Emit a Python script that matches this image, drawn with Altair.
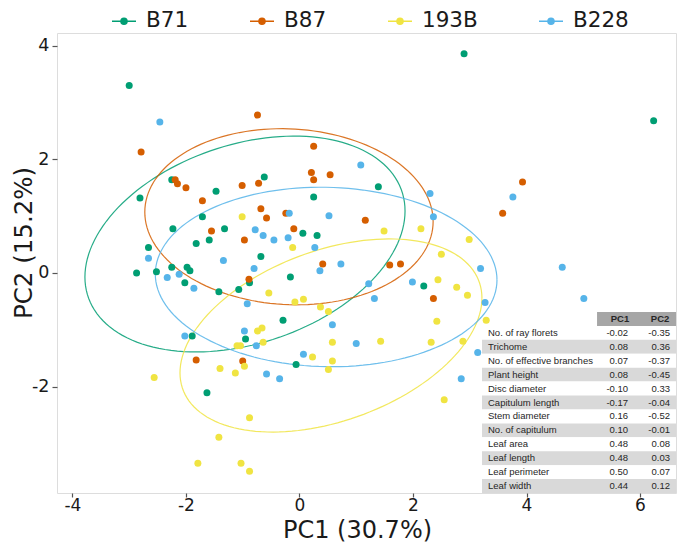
import altair as alt
import numpy as np
import pandas as pd

groups = ["B71", "B87", "193B", "B228"]
colors = ["#009E73", "#D55E00", "#F0E442", "#56B4E9"]

b71_pc1 = [-3.00, -2.25, -0.62, -2.81, -1.47, 0.25, 1.39, -1.71, -2.23, -1.32,
           -1.82, -1.59, 0.06, 0.31, -2.66, -0.68, -2.87, -2.52, -2.25, -1.98,
           -1.93, -0.16, 2.90, 6.24, 2.19, -2.02, -1.42, -1.07, -0.88, -0.29,
           -0.95, -1.89, -0.06, -1.63]
b71_pc2 = [3.30, 1.64, 1.69, 1.32, 1.44, 1.34, 1.52, 0.99, 0.78, 0.78,
           0.52, 0.58, 0.70, 0.66, 0.45, 0.29, 0.00, 0.02, 0.10, 0.10,
           0.04, -0.07, 3.86, 2.68, -0.23, -0.17, -0.33, -0.29, -0.17, -0.83,
           -1.16, -1.11, -1.61, -2.11]

b87_pc1 = [-0.74, -2.79, 0.25, -2.19, -2.15, -2.00, -1.01, -0.72, 0.21, 0.25,
           0.54, -1.71, -0.68, -0.58, -0.24, 1.16, -1.55, -0.97, -0.10, 0.41,
           -0.89, 3.93, 3.58, 1.59, 1.78, 2.36, -1.82, -1.00]
b87_pc2 = [2.78, 2.13, 2.23, 1.64, 1.57, 1.50, 1.54, 1.58, 1.77, 1.64,
           1.73, 1.27, 1.13, 0.97, 1.05, 0.93, 0.74, 0.58, 0.78, 0.16,
           -0.11, 1.60, 1.05, 0.14, 0.16, -0.45, -1.53, -1.55]

b193_pc1 = [-1.01, -0.12, 1.49, 2.14, 2.99, 2.50, 2.44, 2.77, 2.96, 2.42,
            3.29, 1.43, 2.32, 2.88, 2.55, -0.54, -0.08, 0.07, 0.37, 0.51,
            -0.74, -0.66, -1.10, -1.04, -0.64, 0.58, 0.23, 0.58, 0.51, -0.97,
            -1.40, -1.13, -2.56, -0.88, -1.42, -1.79, -1.03, -0.88]
b193_pc2 = [0.99, 0.45, 0.74, 0.78, 0.59, 0.33, -0.12, -0.25, -0.39, -0.85,
            -0.83, -1.20, -1.22, -1.20, -2.23, -0.35, -0.51, -0.46, -0.60, -0.68,
            -1.02, -0.97, -1.28, -1.28, -1.22, -1.22, -1.48, -1.55, -1.70, -1.64,
            -1.68, -1.76, -1.84, -2.55, -2.89, -3.35, -3.35, -3.49]

b228_pc1 = [-2.46, 1.08, -0.18, 0.52, -0.78, -0.64, -0.45, -0.20, 0.27, -2.66,
            -1.34, 0.73, -0.80, 0.36, -2.33, -2.12, 2.30, 3.76, 2.36, 3.19,
            4.63, 1.99, 1.32, 5.01, 3.27, 3.14, 2.85, -1.86, 1.22, -0.92,
            0.58, -0.97, -2.02, -0.76, 1.00, 0.07, -0.58, -0.35]
b228_pc2 = [2.66, 1.90, 1.05, 1.01, 0.76, 0.66, 0.58, 0.62, 0.45, 0.26,
            0.22, 0.16, 0.08, 0.04, -0.08, -0.02, 1.40, 1.34, 0.99, 0.08,
            0.10, -0.16, -0.45, -0.45, -0.52, -1.40, -1.86, -0.27, -0.19, -0.54,
            -0.91, -1.02, -1.11, -1.28, -1.24, -1.43, -1.78, -1.86]

# confidence ellipses: centre, spread along PC1/PC2, covariance
ell_cx = [-0.96, -0.185, 0.555, 0.47]
ell_cy = [0.51, 0.99, -1.10, -0.07]
ell_sx = [2.82, 2.54, 2.66, 3.01]
ell_sy = [1.90, 1.55, 1.70, 1.58]
ell_sxy = [1.64, -0.21, 1.75, -0.155]

traits = ["No. of ray florets", "Trichome", "No. of effective branches", "Plant height",
          "Disc diameter", "Capitulum length", "Stem diameter", "No. of capitulum",
          "Leaf area", "Leaf length", "Leaf perimeter", "Leaf width"]
load_pc1 = [-0.02, 0.08, 0.07, 0.08, -0.10, -0.17, 0.16, 0.10, 0.48, 0.48, 0.50, 0.44]
load_pc2 = [-0.35, 0.36, -0.37, -0.45, 0.33, -0.04, -0.52, -0.01, 0.08, 0.03, 0.07, 0.12]

# ---------- data frames ----------
pts = pd.concat([
    pd.DataFrame({"group": "B71", "PC1": b71_pc1, "PC2": b71_pc2}),
    pd.DataFrame({"group": "B87", "PC1": b87_pc1, "PC2": b87_pc2}),
    pd.DataFrame({"group": "193B", "PC1": b193_pc1, "PC2": b193_pc2}),
    pd.DataFrame({"group": "B228", "PC1": b228_pc1, "PC2": b228_pc2}),
], ignore_index=True)

t = np.linspace(0, 2 * np.pi, 145)
ell_rows = []
for g, cx, cy, sx, sy, sxy in zip(groups, ell_cx, ell_cy, ell_sx, ell_sy, ell_sxy):
    a = sxy / sx
    b = np.sqrt(sy ** 2 - a ** 2)
    for k, tt in enumerate(t):
        ell_rows.append({"group": g, "k": k,
                         "PC1": cx + sx * np.cos(tt),
                         "PC2": cy + a * np.cos(tt) + b * np.sin(tt)})
ell = pd.DataFrame(ell_rows)

tab = pd.DataFrame({
    "trait": traits,
    "v1": [f"{v:.2f}" for v in load_pc1],
    "v2": [f"{v:.2f}" for v in load_pc2],
    "row": list(range(1, len(traits) + 1)),
})
tab["bg"] = ["#ffffff" if i % 2 == 0 else "#d9d9d9" for i in range(len(traits))]
head = pd.DataFrame({"h": ["PC1", "PC2"], "col": [0, 1]})

# ---------- scales ----------
xs = alt.Scale(domain=[-4.272, 6.634], nice=False, zero=False)
ys = alt.Scale(domain=[-3.873, 4.225], nice=False, zero=False)
cs = alt.Scale(domain=groups, range=colors)

FONT = "DejaVu Sans"
FRAME = "#555555"

xaxis = alt.Axis(values=[-4, -2, 0, 2, 4, 6], labelExpr="'' + datum.value", grid=False,
                 domain=False, tickSize=4, tickColor=FRAME, tickWidth=1.2,
                 labelFontSize=17, labelFont=FONT, labelColor="#1a1a1a", labelPadding=0,
                 title="PC1 (30.7%)", titleFont=FONT, titleFontSize=24, titleFontWeight="normal",
                 titleColor="#1a1a1a", titleX=300, titleY=44, titleBaseline="alphabetic",
                 titleAlign="center")
yaxis = alt.Axis(values=[-2, 0, 2, 4], labelExpr="'' + datum.value", grid=False,
                 domain=False, tickSize=5, tickColor=FRAME, tickWidth=1.2,
                 labelFontSize=17.5, labelFont=FONT, labelColor="#1a1a1a", labelPadding=3,
                 title="PC2 (15.2%)", titleFont=FONT, titleFontSize=24.5, titleFontWeight="normal",
                 titleColor="#1a1a1a", titleAngle=270, titleX=-26, titleY=209.5,
                 titleBaseline="alphabetic", titleAlign="center")

legend = alt.Legend(
    title=None, orient="none", legendX=54, legendY=-25, direction="horizontal",
    symbolType="M-1,0L1,0M-0.25,0A0.25,0.25,0,1,1,0.25,0A0.25,0.25,0,1,1,-0.25,0Z",
    symbolSize=576, symbolStrokeWidth=1.6, symbolOpacity=1,
    labelFontSize=21.5, labelFont=FONT, labelColor="#1a1a1a", labelOffset=9,
    columnPadding=57, padding=0,
)

ellipses = alt.Chart(ell).mark_line(strokeWidth=1.2, opacity=0.85).encode(
    x=alt.X("PC1:Q", scale=xs, axis=xaxis),
    y=alt.Y("PC2:Q", scale=ys, axis=yaxis),
    color=alt.Color("group:N", scale=cs, legend=legend),
    order="k:Q",
)
points = alt.Chart(pts).mark_point(filled=True, size=49, opacity=1, strokeWidth=0).encode(
    x=alt.X("PC1:Q", scale=xs, axis=xaxis),
    y=alt.Y("PC2:Q", scale=ys, axis=yaxis),
    color=alt.Color("group:N", scale=cs, legend=legend),
)
main = alt.layer(ellipses, points)

# ---------- inset loading table ----------
txs = alt.Scale(domain=[0, 1], range=[425, 619], nice=False, zero=False)
tys = alt.Scale(domain=[0, 13], range=[279, 460], nice=False, zero=False)
TFONT = "Liberation Sans"
TSIZE = 9.5
TCOL = "#262626"

rows_bg = alt.Chart(tab).transform_calculate(
    x0="0", x1="1", r0="datum.row", r1="datum.row + 1"
).mark_rect().encode(
    x=alt.X("x0:Q", scale=txs, axis=None), x2="x1:Q",
    y=alt.Y("r0:Q", scale=tys, axis=None), y2="r1:Q",
    fill=alt.Fill("bg:N", scale=None),
)
head_bg = alt.Chart(head).transform_aggregate(n="count()").transform_calculate(
    x0="0.593", x1="1", r0="0", r1="1"
).mark_rect(color="#a6a6a6").encode(
    x=alt.X("x0:Q", scale=txs, axis=None), x2="x1:Q",
    y=alt.Y("r0:Q", scale=tys, axis=None), y2="r1:Q",
)
head_txt = alt.Chart(head).transform_calculate(
    tx="datum.col == 0 ? 0.711 : 0.918", ty="0.5"
).mark_text(font=TFONT, fontSize=TSIZE, fontWeight="bold", color=TCOL, baseline="middle",
            align="center").encode(
    x=alt.X("tx:Q", scale=txs, axis=None),
    y=alt.Y("ty:Q", scale=tys, axis=None),
    text="h:N",
)
lab_txt = alt.Chart(tab).transform_calculate(
    tx="0.031", ty="datum.row + 0.5"
).mark_text(font=TFONT, fontSize=TSIZE, color=TCOL, baseline="middle", align="left").encode(
    x=alt.X("tx:Q", scale=txs, axis=None),
    y=alt.Y("ty:Q", scale=tys, axis=None),
    text="trait:N",
)
v1_txt = alt.Chart(tab).transform_calculate(
    tx="0.753", ty="datum.row + 0.5"
).mark_text(font=TFONT, fontSize=TSIZE, color=TCOL, baseline="middle", align="right").encode(
    x=alt.X("tx:Q", scale=txs, axis=None),
    y=alt.Y("ty:Q", scale=tys, axis=None),
    text="v1:N",
)
v2_txt = alt.Chart(tab).transform_calculate(
    tx="0.969", ty="datum.row + 0.5"
).mark_text(font=TFONT, fontSize=TSIZE, color=TCOL, baseline="middle", align="right").encode(
    x=alt.X("tx:Q", scale=txs, axis=None),
    y=alt.Y("ty:Q", scale=tys, axis=None),
    text="v2:N",
)
table = alt.layer(rows_bg, head_bg, head_txt, lab_txt, v1_txt, v2_txt)

chart = alt.layer(main, table).resolve_scale(
    x="independent", y="independent"
).properties(
    width=619, height=460,
    padding={"left": 49, "top": 25, "right": 1, "bottom": 49},
    autosize=alt.AutoSizeParams(type="none"),
).configure_view(
    stroke=FRAME, strokeWidth=1.5
).configure(font=FONT, background="white")

chart.save("out.html", embed_options={"renderer": "svg", "actions": False})
